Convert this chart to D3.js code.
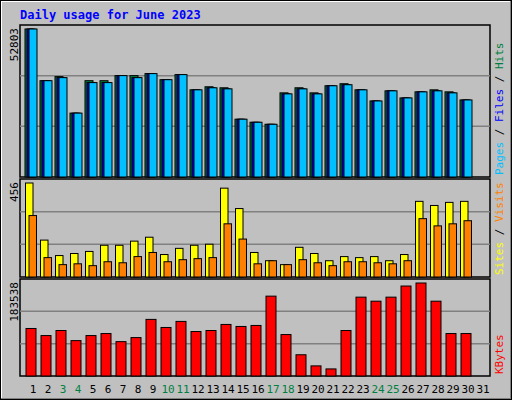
<!DOCTYPE html>
<html><head><meta charset="utf-8">
<script src="https://cdn.jsdelivr.net/npm/d3@7"></script>
<style>body{margin:0}text{font-family:"DejaVu Sans Mono",monospace}</style>
</head><body>
<svg id="c" width="512" height="400"></svg>
<script>
const days = d3.range(1, 32);
const weekend = [3, 4, 10, 11, 17, 18, 24, 25];
const hits = [52803,34360,35810,22790,34360,34360,36170,36170,36890,34720,36530,31100,32190,31830,20620,19530,18810,30020,31830,30020,32550,33280,31100,27130,30740,28210,30380,31100,30380,27490];
const files = [52803,34360,35450,22790,33680,33680,36170,35450,36890,34720,36530,31100,31830,31450,20620,19530,18810,29660,31450,29660,32550,32920,31100,27130,30740,28210,30380,30740,30020,27490];
const pages = files;
const sites = [456,179,104,114,124,154,154,174,193,109,139,154,159,431,332,119,79,60,144,114,79,99,94,99,79,109,367,347,362,367];
const visits = [298,94,60,64,55,74,69,99,119,74,84,89,94,258,184,64,79,60,84,69,55,74,74,69,64,79,283,248,258,273];
const kbytes = [93770,79800,89780,69830,79800,83790,67830,75810,111720,95760,107730,87780,89780,101750,97760,99750,157610,81800,41900,19950,13970,89780,155610,147630,155610,177560,183538,147630,83790,83790];

const svg = d3.select("#c");
svg.append("rect").attr("width", 512).attr("height", 400).attr("fill", "#c0c0c0");
svg.append("path").attr("d", "M1,399V1H511").attr("stroke", "#fff").attr("stroke-width", 2).attr("fill", "none");
svg.append("path").attr("d", "M1,399H511V1").attr("stroke", "#808080").attr("stroke-width", 2).attr("fill", "none");
svg.append("rect").attr("x", 0.5).attr("y", 0.5).attr("width", 511).attr("height", 399).attr("fill", "none").attr("stroke", "#000");

svg.append("text").attr("x", 20).attr("y", 19).attr("fill", "#0000ff")
  .attr("font-size", 12).attr("font-weight", "bold").text("Daily usage for June 2023");

const x = d3.scaleLinear().domain([1, 31]).range([33, 483]);
const L = 20, R = 490;

function panel(top, bottom, max, label, series) {
  const y = d3.scaleLinear().domain([0, max]).range([bottom, top + 4]);
  svg.append("rect").attr("x", L).attr("y", top).attr("width", R - L).attr("height", bottom - top)
    .attr("fill", "#c0c0c0").attr("stroke", "#000").attr("stroke-width", 1.5);
  [1, 2].forEach(i => {
    const gy = top + (bottom - top) * i / 3;
    svg.append("line").attr("x1", L).attr("x2", R).attr("y1", gy).attr("y2", gy)
      .attr("stroke", "#808080").attr("stroke-width", 1.5);
  });
  svg.append("text").attr("transform", `translate(18,${top + 3}) rotate(-90)`)
    .attr("text-anchor", "end").attr("font-size", 11).text(max);
  series.forEach(s => {
    svg.append("g").selectAll("rect").data(s.data).join("rect")
      .attr("x", (d, i) => x(i + 1) + s.dx).attr("width", s.w)
      .attr("y", d => y(d)).attr("height", d => bottom - y(d))
      .attr("fill", s.color).attr("stroke", "#000").attr("stroke-width", 1);
  });
  // right-hand legend, reading bottom to top
  const t = svg.append("text").attr("transform", `translate(503,${bottom - 2}) rotate(-90)`)
    .attr("font-size", 11);
  label.forEach((p, i) => {
    if (i) t.append("tspan").attr("fill", "#000").text("/");
    t.append("tspan").attr("fill", p[1]).text(p[0]);
  });
}

panel(25, 177, 52803, [["Pages ", "#00c0ff"], [" Files ", "#0000ff"], [" Hits", "#008040"]], [
  { data: hits, color: "#008040", dx: -8, w: 8 },
  { data: files, color: "#0000ff", dx: -6, w: 8 },
  { data: pages, color: "#00c0ff", dx: -4, w: 8 }
]);
panel(179, 277, 456, [["Sites ", "#ffff00"], [" Visits", "#ff8000"]], [
  { data: sites, color: "#ffff00", dx: -7.5, w: 7.5 },
  { data: visits, color: "#ff8000", dx: -4, w: 7.5 }
]);
panel(279, 376, 183538, [["KBytes", "#ff0000"]], [
  { data: kbytes, color: "#ff0000", dx: -7, w: 10 }
]);

svg.append("g").selectAll("text").data(days).join("text")
  .attr("x", d => x(d)).attr("y", 393).attr("text-anchor", "middle").attr("font-size", 11)
  .attr("fill", d => weekend.includes(d) ? "#008040" : "#000").text(d => d);
</script>
</body></html>
